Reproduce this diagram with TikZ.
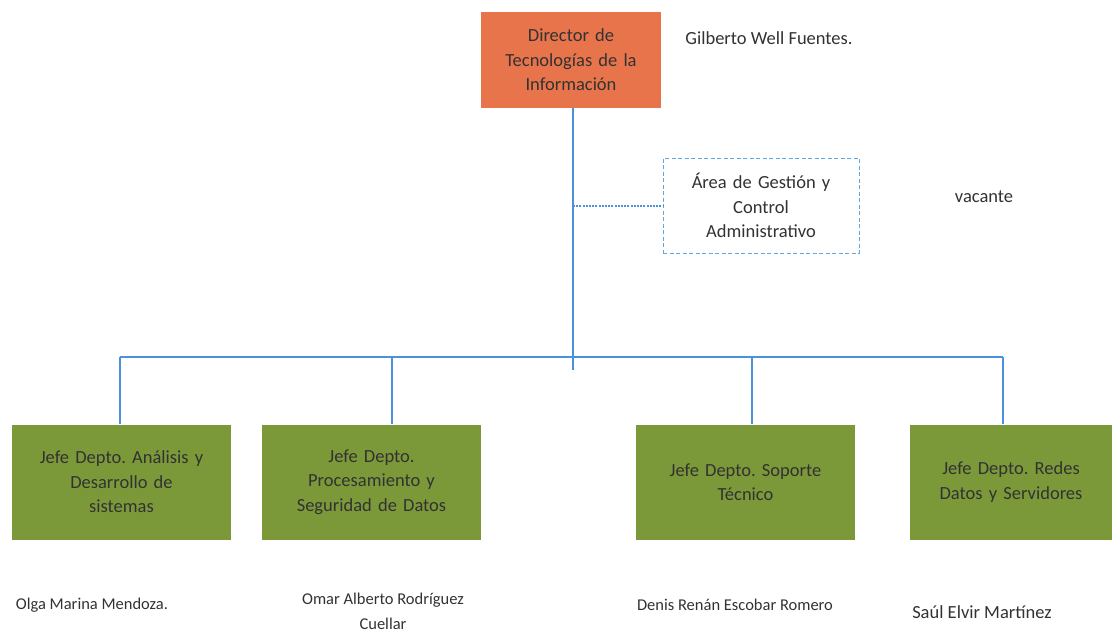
\documentclass[tikz,border=0pt]{standalone}
\usepackage{fontspec}
\setmainfont{Carlito}
\usepackage{xcolor}
\usetikzlibrary{positioning}

\definecolor{dirorange}{RGB}{232,116,76}
\definecolor{jefegreen}{RGB}{124,153,58}
\definecolor{linkblue}{RGB}{74,144,220}
\definecolor{areablue}{RGB}{96,168,226}
\definecolor{txtgray}{RGB}{50,50,50}

\frenchspacing
\begin{document}
\begin{tikzpicture}[
    x=1pt, y=-1pt,
    every node/.style={text=txtgray, font=\fontsize{18.5}{24.5}\selectfont},
    director/.style={rectangle, fill=dirorange, minimum width=180pt, minimum height=96pt, text width=178pt, align=center, inner sep=0pt},
    area/.style={rectangle, draw=areablue, dashed, dash pattern=on 4pt off 2.5pt, fill=white, minimum width=196pt, minimum height=95pt, text width=194pt, align=center, inner sep=0pt},
    jefe/.style={rectangle, fill=jefegreen, minimum width=219pt, minimum height=115pt, text width=217pt, align=center, inner sep=0pt},
    person/.style={align=center, inner sep=0pt},
    small/.style={font=\fontsize{16.5}{24.5}\selectfont},
    link/.style={draw=linkblue, line width=1.6pt},
    dotlink/.style={draw=linkblue, line width=2pt, dash pattern=on 2pt off 1.2pt},
]
    \useasboundingbox (0,0) rectangle (1119,642);

    % Director
    \node[director] (director) at (571,60) {Director de\\Tecnologías de la\\Información};
    \node[person] (gilberto) at (769,38) {Gilberto Well Fuentes.};

    % Staff area
    \node[area] (area) at (761,205.5) {Área de Gestión y\\Control\\Administrativo};
    \node[person] (vacante) at (984,197) {vacante};

    % Departments
    \node[jefe] (jefe1) at (121.5,482) {Jefe Depto. Análisis y\\Desarrollo de\\sistemas};
    \node[jefe] (jefe2) at (371.5,482) {Jefe Depto.\\Procesamiento y\\Seguridad de Datos};
    \node[jefe] (jefe3) at (745.5,482) {Jefe Depto. Soporte\\Técnico};
    \node[jefe, minimum width=202pt, text width=200pt] (jefe4) at (1011,482) {Jefe Depto. Redes\\Datos y Servidores};

    % Names
    \node[person, small] (olga) at (92,605) {Olga Marina Mendoza.};
    \node[person, small, anchor=north] (omar) at (383,593) {Omar Alberto Rodríguez\\Cuellar};
    \node[person, small] (denis) at (735,605) {Denis Renán Escobar Romero};
    \node[person] (saul) at (982,612) {Saúl Elvir Martínez};

    % Bar coordinates
    \coordinate (hub) at (573,370);
    \coordinate (b1) at (120,357);
    \coordinate (b2) at (392,357);
    \coordinate (b3) at (752,357);
    \coordinate (b4) at (1003,357);

    % Connectors
    \draw[link] (director.south -| hub) -- (hub);
    \draw[dotlink] (hub |- area.west) -- (area.west);
    \draw[link] (b1) -- (b4);
    \draw[link] (b1) -- (b1 |- jefe1.north);
    \draw[link] (b2) -- (b2 |- jefe2.north);
    \draw[link] (b3) -- (b3 |- jefe3.north);
    \draw[link] (b4) -- (b4 |- jefe4.north);
\end{tikzpicture}
\end{document}
